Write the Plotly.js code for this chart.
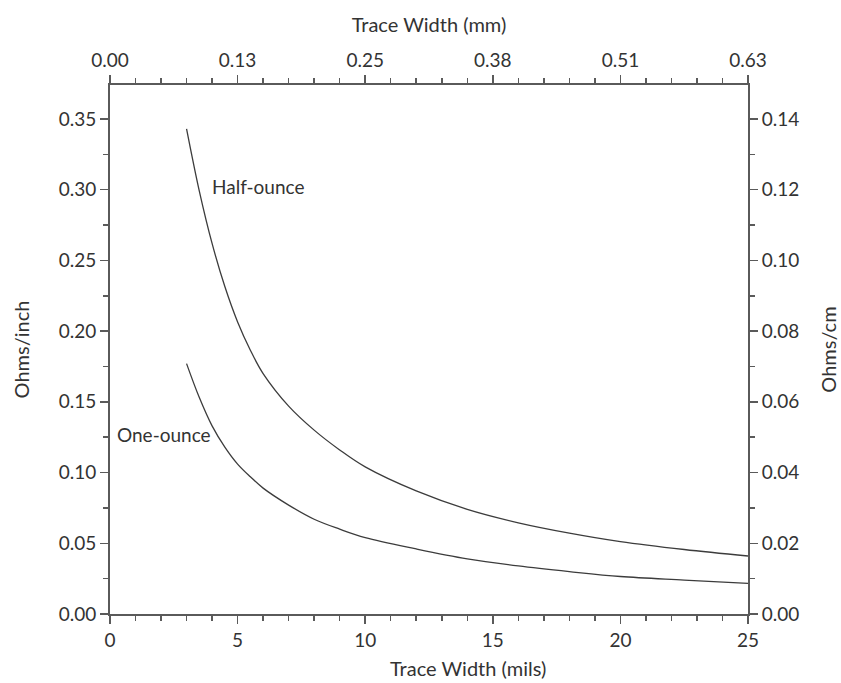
<!DOCTYPE html>
<html>
<head>
<meta charset="utf-8">
<script src="https://cdn.plot.ly/plotly-3.0.1.min.js"></script>
<style>html,body{margin:0;padding:0;background:#fff;}#chart{width:841px;height:683px;}</style>
</head>
<body>
<div id="chart"></div>
<script>
// Trace width in mils
const widthMils = [3, 3.5, 4, 4.5, 5, 5.5, 6, 7, 8, 9, 10, 12, 14, 16, 18, 20, 22.5, 25];
// Resistance, ohms per inch
const halfOunce = [0.343, 0.299, 0.262, 0.2315, 0.2065, 0.1865, 0.170, 0.147, 0.130, 0.116, 0.104, 0.087, 0.074, 0.0645, 0.0572, 0.0512, 0.0456, 0.041];
const oneOunce  = [0.177, 0.153, 0.133, 0.118, 0.106, 0.097, 0.089, 0.077, 0.067, 0.060, 0.054, 0.046, 0.039, 0.034, 0.030, 0.0265, 0.024, 0.0217];
// Bottom axis major ticks (mils) and top axis labels (mm) at the same positions
const xTickMils = [0, 5, 10, 15, 20, 25];
const topTickText = ["0.00", "0.13", "0.25", "0.38", "0.51", "0.63"];
// Left axis ticks (ohms/inch) and right axis labels (ohms/cm) at the same heights
const yTickInch = [0, 0.05, 0.10, 0.15, 0.20, 0.25, 0.30, 0.35];
const rightTickText = ["0.00", "0.02", "0.04", "0.06", "0.08", "0.10", "0.12", "0.14"];
const seriesNames = ["Half-ounce", "One-ounce"];

const lineColor = "#3c3c3c";
const axisColor = "#5a5a5a";
const fontFam = "Lato, 'Open Sans', sans-serif";
const txt = "#333";
const fs = 19;
const tfs = 20;

const traces = [
  {x: widthMils, y: halfOunce, name: seriesNames[0], xaxis: "x", yaxis: "y", mode: "lines", line: {color: lineColor, width: 1.3, shape: "spline", smoothing: 1}, hoverinfo: "x+y"},
  {x: widthMils, y: oneOunce, name: seriesNames[1], xaxis: "x2", yaxis: "y2", mode: "lines", line: {color: lineColor, width: 1.3, shape: "spline", smoothing: 1}, hoverinfo: "x+y"}
];

const yMax = 0.374;
const minorX = [];
for (let i = 1; i < 25; i++) if (i % 5) minorX.push(i);
const minorY = yTickInch.map(v => v + 0.025);

const common = {
  showline: true, linecolor: axisColor, linewidth: 2, showgrid: false, zeroline: false,
  ticks: "outside", ticklen: 8, tickwidth: 1.5, tickcolor: axisColor,
  tickfont: {family: fontFam, size: fs, color: txt}
};
const minorXo = {tickmode: "array", tickvals: minorX, ticks: "outside", ticklen: 5, tickwidth: 1.5, tickcolor: axisColor};
const minorYo = {tickmode: "array", tickvals: minorY, ticks: "outside", ticklen: 5, tickwidth: 1.5, tickcolor: axisColor};

const layout = {
  width: 841, height: 683,
  margin: {l: 110, r: 93, t: 85, b: 69},
  paper_bgcolor: "#fff", plot_bgcolor: "rgba(0,0,0,0)",
  showlegend: false,
  font: {family: fontFam, size: fs, color: txt},
  xaxis: Object.assign({}, common, {
    range: [0, 25], tickmode: "array", tickvals: xTickMils, anchor: "y",
    minor: minorXo
  }),
  xaxis2: Object.assign({}, common, {
    range: [0, 25], side: "top", anchor: "y", overlaying: "x",
    tickmode: "array", tickvals: xTickMils, ticktext: topTickText,
    minor: minorXo,
    title: {text: "Trace Width (mm)", font: {family: fontFam, size: tfs, color: txt}, standoff: 10}
  }),
  yaxis: Object.assign({}, common, {
    range: [0, yMax], tickmode: "array", tickvals: yTickInch, tickformat: ".2f", anchor: "x",
    minor: minorYo,
    title: {text: "Ohms/inch", font: {family: fontFam, size: tfs, color: txt}, standoff: 24}
  }),
  yaxis2: Object.assign({}, common, {
    range: [0, yMax], side: "right", anchor: "x", overlaying: "y",
    tickmode: "array", tickvals: yTickInch, ticktext: rightTickText,
    minor: minorYo,
    title: {text: "Ohms/cm", font: {family: fontFam, size: tfs, color: txt}, standoff: 24}
  }),
  annotations: [
    {x: 3.92, y: 0.302, xref: "x", yref: "y", text: seriesNames[0], showarrow: false, xanchor: "left", yanchor: "middle", font: {family: fontFam, size: fs, color: txt}},
    {x: 0.2, y: 0.1266, xref: "x", yref: "y", text: seriesNames[1], showarrow: false, xanchor: "left", yanchor: "middle", font: {family: fontFam, size: fs, color: txt}},
    {x: 0.561, y: -0.102, xref: "paper", yref: "paper", text: "Trace Width (mils)", showarrow: false, xanchor: "center", yanchor: "middle", font: {family: fontFam, size: tfs, color: txt}}
  ]
};

Plotly.newPlot("chart", traces, layout, {displayModeBar: false, staticPlot: true});
</script>
</body>
</html>
